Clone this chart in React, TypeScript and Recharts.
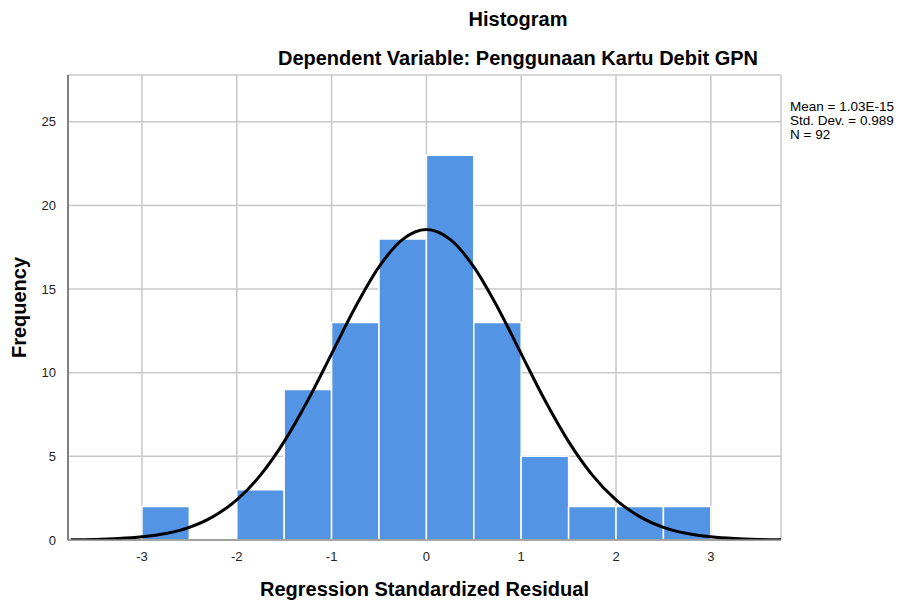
import React from "react";
import {
  ComposedChart,
  Line,
  XAxis,
  YAxis,
  CartesianGrid,
  ReferenceArea,
} from "recharts";

// Histogram bins (Regression Standardized Residual)
const binStarts = [-3, -2.5, -2, -1.5, -1, -0.5, 0, 0.5, 1, 1.5, 2, 2.5];
const binEnds = [-2.5, -2, -1.5, -1, -0.5, 0, 0.5, 1, 1.5, 2, 2.5, 3];
const frequencies = [2, 0, 3, 9, 13, 18, 23, 13, 5, 2, 2, 2];

// Normal curve
const curveX = [
  -3.75, -3.5, -3.25, -3, -2.75, -2.5, -2.25, -2, -1.75, -1.5, -1.25, -1, -0.75,
  -0.5, -0.25, 0, 0.25, 0.5, 0.75, 1, 1.25, 1.5, 1.75, 2, 2.25, 2.5, 2.75, 3,
  3.25, 3.5, 3.75,
];
const curveY = [
  0.014, 0.035, 0.084, 0.19, 0.39, 0.76, 1.4, 2.4, 3.88, 5.88, 8.35, 11.13,
  13.92, 16.33, 17.97, 18.56, 17.97, 16.33, 13.92, 11.13, 8.35, 5.88, 3.88, 2.4,
  1.4, 0.76, 0.39, 0.19, 0.084, 0.035, 0.014,
];

const xTicks = [-3, -2, -1, 0, 1, 2, 3];
const yTicks = [0, 5, 10, 15, 20, 25];

const titleText = "Histogram";
const subtitleText = "Dependent Variable: Penggunaan Kartu Debit GPN";
const statLines = ["Mean = 1.03E-15", "Std. Dev. = 0.989", "N = 92"];

const FONT = "'Liberation Sans', Arial, sans-serif";

const curveData = curveX.map((x, i) => ({ x, y: curveY[i] }));

export default function App() {
  return (
    <div
      style={{
        position: "absolute",
        left: 0,
        top: 0,
        width: 897,
        height: 600,
        background: "#fff",
        fontFamily: FONT,
      }}
    >
      <ComposedChart
        width={897}
        height={600}
        data={curveData}
        margin={{ top: 75, right: 116, bottom: 28, left: 8 }}
      >
        <CartesianGrid stroke="#c8c8c8" strokeWidth={1.5} />
        <XAxis
          dataKey="x"
          type="number"
          domain={[-3.78, 3.74]}
          ticks={xTicks}
          allowDataOverflow
          tickLine={false}
          axisLine={{ stroke: "#8c8c8c", strokeWidth: 1.5 }}
          tick={{ fill: "#222", fontSize: 13, fontFamily: FONT }}
          tickMargin={6}
          height={32}
          label={{
            value: "Regression Standardized Residual",
            position: "insideBottom",
            offset: -24,
            style: {
              fontSize: 20,
              fontWeight: "bold",
              fill: "#000",
              fontFamily: FONT,
            },
          }}
        />
        <YAxis
          type="number"
          domain={[0, 27.8]}
          ticks={yTicks}
          allowDataOverflow
          tickLine={false}
          axisLine={{ stroke: "#7f7f7f", strokeWidth: 2 }}
          tick={{ fill: "#222", fontSize: 13, fontFamily: FONT }}
          tickMargin={6}
          width={60}
          label={{
            value: "Frequency",
            angle: -90,
            position: "insideLeft",
            offset: 11,
            style: {
              fontSize: 20,
              fontWeight: "bold",
              fill: "#000",
              fontFamily: FONT,
              textAnchor: "middle",
            },
          }}
        />
        {binStarts.map((s, i) =>
          frequencies[i] > 0 ? (
            <ReferenceArea
              key={i}
              x1={s}
              x2={binEnds[i]}
              y1={0}
              y2={frequencies[i]}
              fill="#5494e4"
              fillOpacity={1}
              stroke="#ffffff"
              strokeWidth={1.5}
              strokeOpacity={1}
            />
          ) : null
        )}
        <Line
          dataKey="y"
          type="monotone"
          stroke="#000"
          strokeWidth={3}
          dot={false}
          activeDot={false}
          isAnimationActive={false}
        />
      </ComposedChart>
      <div
        style={{
          position: "absolute",
          left: 318,
          width: 400,
          top: 8,
          textAlign: "center",
          fontSize: 20,
          fontWeight: "bold",
          color: "#000",
        }}
      >
        {titleText}
      </div>
      <div
        style={{
          position: "absolute",
          left: 168,
          width: 700,
          top: 47,
          textAlign: "center",
          fontSize: 20,
          fontWeight: "bold",
          color: "#000",
        }}
      >
        {subtitleText}
      </div>
      <div
        style={{
          position: "absolute",
          left: 790,
          top: 100,
          fontSize: 13.5,
          lineHeight: "14px",
          color: "#000",
        }}
      >
        {statLines.map((t) => (
          <div key={t}>{t}</div>
        ))}
      </div>
    </div>
  );
}
